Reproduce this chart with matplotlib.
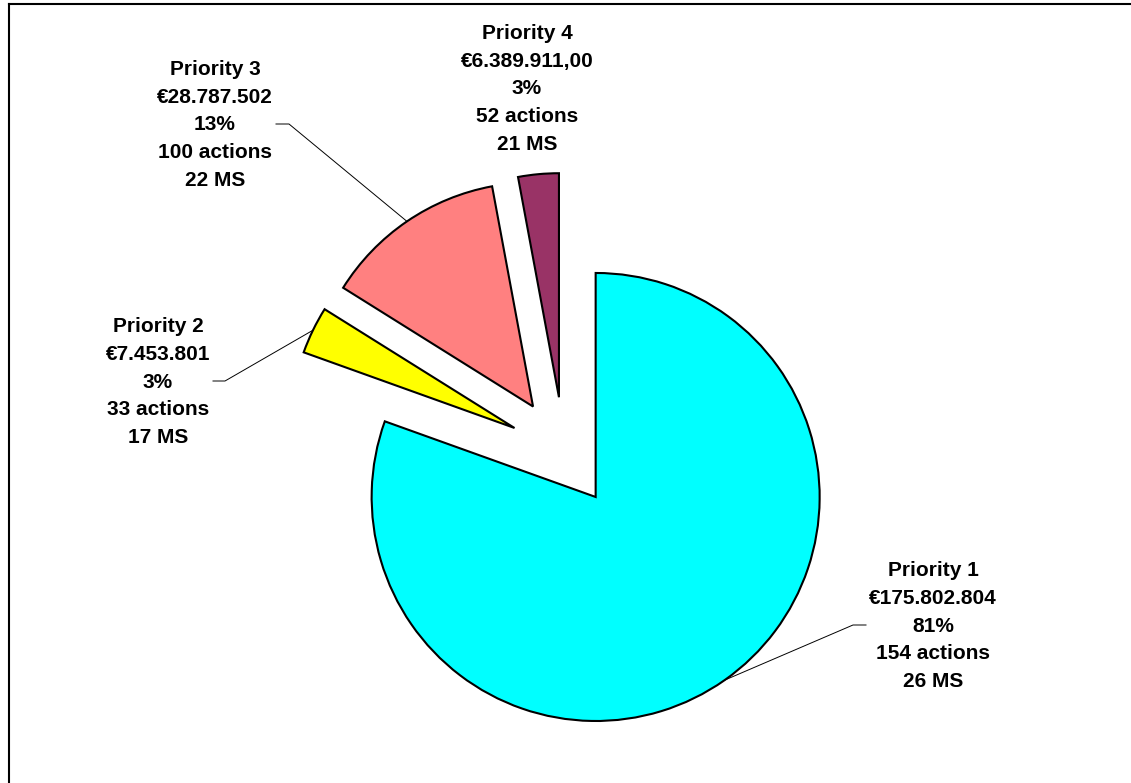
import matplotlib
matplotlib.use('Agg')
import matplotlib.pyplot as plt
import numpy as np

priorities = ['Priority 1', 'Priority 2', 'Priority 3', 'Priority 4']
amounts = [175802804, 7453801, 28787502, 6389911]
amount_labels = ['€175.802.804', '€7.453.801', '€28.787.502', '€6.389.911,00']
pct_labels = ['81%', '3%', '13%', '3%']
actions = [154, 33, 100, 52]
ms_counts = [26, 17, 22, 21]
colors = ['#00FFFF', '#FFFF00', '#FF8080', '#993366']

W, H = 1131, 783
fig = plt.figure(figsize=(W / 100, H / 100), dpi=100)
ax = fig.add_axes([0, 0, 1, 1])

# pie geometry in pixel units (y up)
cx, cy = 564, H - 452
radius = 224
expl = 55

wedges, _ = ax.pie(amounts, colors=colors, startangle=90, counterclock=False,
                   center=(cx, cy), radius=radius, explode=[expl] * 4,
                   wedgeprops=dict(edgecolor='black', linewidth=1.5))
ax.set_xlim(0, W)
ax.set_ylim(0, H)
ax.set_aspect('equal')
ax.axis('off')

# label positions (centre of text block, y down) and leader stubs
label_pos = [(933, 626), (158, 382), (215, 125), (527, 89)]
stubs = [((866, 625), (853, 625)), ((213, 381), (225, 381)),
         ((276, 124), (289, 124)), None]

for i, w in enumerate(wedges):
    txt = '\n'.join([priorities[i], amount_labels[i], pct_labels[i],
                     f'{actions[i]} actions', f'{ms_counts[i]} MS'])
    lx, ly = label_pos[i]
    ax.text(lx, H - ly, txt, ha='center', va='center', ma='center',
            fontsize=15, fontweight='bold', family='Liberation Sans',
            linespacing=1.57)
    if stubs[i] is not None:
        ang = np.deg2rad((w.theta1 + w.theta2) / 2)
        wx, wy = w.center
        ex, ey = wx + w.r * np.cos(ang), wy + w.r * np.sin(ang)
        (x0, y0), (x1, y1) = stubs[i]
        ax.plot([x0, x1, ex], [H - y0, H - y1, ey], color='black', lw=0.7)

# chart area border (top and left edges visible)
fig.add_artist(plt.Line2D([9 / W, 1], [1 - 4 / H, 1 - 4 / H], color='black', lw=1.5))
fig.add_artist(plt.Line2D([9 / W, 9 / W], [0, 1 - 4 / H], color='black', lw=1.5))

fig.savefig('out.png', dpi=100)
